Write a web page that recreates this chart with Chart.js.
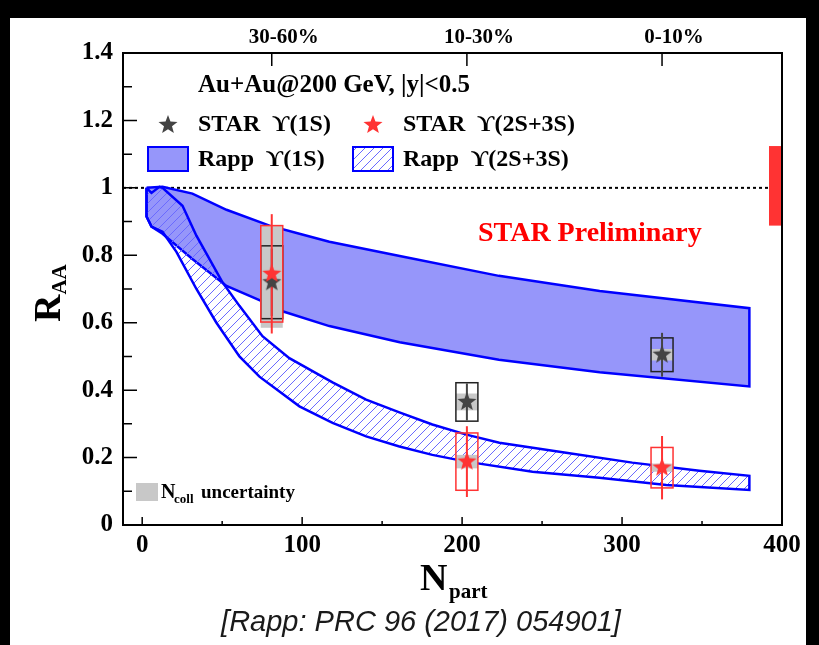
<!DOCTYPE html>
<html>
<head>
<meta charset="utf-8">
<script src="https://cdn.jsdelivr.net/npm/chart.js@4.4.0/dist/chart.umd.min.js"></script>
<style>
html, body { margin: 0; padding: 0; background: #000; }
</style>
</head>
<body>
<canvas id="raa-chart" width="819" height="645"></canvas>
<script>
// STAR points, one entry per centrality bin
const centralityLabels = ['30-60%', '10-30%', '0-10%'];
const nPart = [81, 203, 325];
const star1S = [0.72, 0.365, 0.505];
const star1SStat = [0.10, 0.055, 0.065];
const star1SSys = [0.108, 0.057, 0.05];
const star1SNcoll = [0.135, 0.025, 0.017];
const star23S = [0.745, 0.188, 0.17];
const star23SStat = [0.177, 0.105, 0.094];
const star23SSys = [0.143, 0.085, 0.06];
const star23SNcoll = [0.145, 0.02, 0.012];
const globalUnc = [0.888, 1.124];

// axis ticks
const xMajorTicks = [0, 100, 200, 300, 400];
const xMinorTicks = [50, 150, 250, 350];
const xTickLabels = ['0', '100', '200', '300', '400'];
const yMajorTicks = [0, 0.2, 0.4, 0.6, 0.8, 1, 1.2, 1.4];
const yMinorTicks = [0.1, 0.3, 0.5, 0.7, 0.9, 1.1, 1.3];
const yTickLabels = ['0', '0.2', '0.4', '0.6', '0.8', '1', '1.2', '1.4'];

// Rapp band edges (Npart, RAA)
const rapp1sUpperN = [2.7, 12.7, 31.4, 52.7, 79.6, 98.3, 117, 161, 223, 286, 379.6];
const rapp1sUpper = [1.0, 1.003, 0.983, 0.935, 0.888, 0.864, 0.84, 0.798, 0.739, 0.694, 0.643];
const rapp1sLowerN = [2.7, 5.8, 12.7, 31.4, 52.7, 73.3, 87.7, 117, 161, 223, 286, 379.6];
const rapp1sLower = [0.915, 0.885, 0.864, 0.789, 0.709, 0.667, 0.634, 0.59, 0.542, 0.49, 0.453, 0.411];
const rapp23sUpperN = [2.7, 5.8, 10.8, 12.7, 25.2, 33.9, 50.2, 60.8, 75.2, 92, 119, 140, 160.8, 181.4, 202.7, 223.3, 265, 306.4, 348.3, 379.6];
const rapp23sUpper = [1.0, 0.985, 1.003, 1.0, 0.947, 0.858, 0.72, 0.65, 0.56, 0.495, 0.423, 0.372, 0.334, 0.298, 0.268, 0.244, 0.214, 0.185, 0.161, 0.146];
const rapp23sLowerN = [2.7, 5.8, 12.7, 21.4, 33.9, 46.4, 60.8, 73.3, 98.3, 119, 140, 160.8, 181.4, 202.7, 244, 285.8, 327.7, 379.6];
const rapp23sLower = [0.915, 0.885, 0.87, 0.81, 0.70, 0.60, 0.50, 0.44, 0.352, 0.303, 0.263, 0.233, 0.208, 0.188, 0.158, 0.14, 0.119, 0.104];

const canvas = document.getElementById('raa-chart');
const ctx0 = canvas.getContext('2d');

const SERIF = '"Liberation Serif", "DejaVu Serif", serif';
const BLUE = '#0000ff';
const BAND_FILL = '#9696fa';
const RED = '#ff3333';
const DARK = '#444444';

// band outline as one closed shape: upper edge, then lower edge backwards
function bandShape(upN, up, loN, lo) {
	const pts = upN.map((n, i) => ({ x: n, y: up[i] }));
	for (let i = loN.length - 1; i >= 0; i--) pts.push({ x: loN[i], y: lo[i] });
	pts.push({ x: upN[0], y: up[0] });
	return pts;
}

function makeStar(color, size) {
	const c = document.createElement('canvas');
	c.width = size; c.height = size;
	const g = c.getContext('2d');
	const R = size / 2, r = R * 0.42;
	g.beginPath();
	for (let i = 0; i < 10; i++) {
		const a = -Math.PI / 2 + i * Math.PI / 5;
		const rad = i % 2 ? r : R;
		g.lineTo(R + rad * Math.cos(a), R + rad * Math.sin(a));
	}
	g.closePath();
	g.fillStyle = color;
	g.fill();
	return c;
}

function makeHatch() {
	const t = document.createElement('canvas');
	t.width = 9; t.height = 9;
	const g = t.getContext('2d');
	g.strokeStyle = '#6a6aff';
	g.lineWidth = 1;
	g.beginPath();
	g.moveTo(-1, 10); g.lineTo(10, -1);
	g.moveTo(-1, 1); g.lineTo(1, -1);
	g.moveTo(8, 10); g.lineTo(10, 8);
	g.stroke();
	return ctx0.createPattern(t, 'repeat');
}

const starBlack = makeStar(DARK, 20);
const starRed = makeStar(RED, 20);
const hatch = makeHatch();

const decor = {
	id: 'decor',
	beforeDraw(chart) {
		const c = chart.ctx;
		c.save();
		c.fillStyle = '#000';
		c.fillRect(0, 0, chart.width, chart.height);
		c.fillStyle = '#fff';
		c.fillRect(10, 18, 796, 627);
		c.restore();
	},
	beforeDatasetsDraw(chart) {
		const c = chart.ctx;
		const { left, right } = chart.chartArea;
		const y1 = chart.scales.y.getPixelForValue(1);
		c.save();
		c.strokeStyle = '#000';
		c.lineWidth = 2;
		c.setLineDash([3, 3]);
		c.beginPath();
		c.moveTo(left, y1); c.lineTo(right, y1);
		c.stroke();
		c.restore();
	},
	afterDatasetDraw(chart, args) {
		if (args.index !== 2) return;
		const c = chart.ctx;
		const sx = chart.scales.x, sy = chart.scales.y;
		const hw = 11;
		c.save();
		// Ncoll uncertainty (grey)
		c.fillStyle = '#c8c8c8';
		nPart.forEach((n, i) => {
			const px = sx.getPixelForValue(n);
			[[star1S, star1SNcoll], [star23S, star23SNcoll]].forEach(([v, e]) => {
				const t = sy.getPixelForValue(v[i] + e[i]);
				const b = sy.getPixelForValue(v[i] - e[i]);
				c.fillRect(px - hw, t, 2 * hw, b - t);
			});
		});
		// systematic boxes
		c.lineWidth = 1.5;
		nPart.forEach((n, i) => {
			const px = sx.getPixelForValue(n);
			[[star1S, star1SSys, '#222'], [star23S, star23SSys, RED]].forEach(([v, e, col]) => {
				const t = sy.getPixelForValue(v[i] + e[i]);
				const b = sy.getPixelForValue(v[i] - e[i]);
				c.strokeStyle = col;
				c.strokeRect(px - hw, t, 2 * hw, b - t);
			});
		});
		// statistical bars
		c.lineWidth = 2;
		nPart.forEach((n, i) => {
			const px = sx.getPixelForValue(n);
			[[star1S, star1SStat, DARK], [star23S, star23SStat, RED]].forEach(([v, e, col]) => {
				c.strokeStyle = col;
				c.beginPath();
				c.moveTo(px, sy.getPixelForValue(v[i] + e[i]));
				c.lineTo(px, sy.getPixelForValue(v[i] - e[i]));
				c.stroke();
			});
		});
		c.restore();
	},
	afterDraw(chart) {
		const c = chart.ctx;
		const { left, right, top, bottom } = chart.chartArea;
		const sx = chart.scales.x, sy = chart.scales.y;
		c.save();

		// global uncertainty box at RAA = 1
		const gt = sy.getPixelForValue(globalUnc[1]);
		const gb = sy.getPixelForValue(globalUnc[0]);
		c.fillStyle = RED;
		c.fillRect(right - 13, gt, 13, gb - gt);

		// frame and inward ticks
		c.strokeStyle = '#000';
		c.lineWidth = 2;
		c.strokeRect(left, top, right - left, bottom - top);
		c.lineWidth = 1.5;
		c.beginPath();
		xMajorTicks.forEach(v => { const p = sx.getPixelForValue(v); c.moveTo(p, bottom); c.lineTo(p, bottom - 8); });
		xMinorTicks.forEach(v => { const p = sx.getPixelForValue(v); c.moveTo(p, bottom); c.lineTo(p, bottom - 4); });
		yMajorTicks.forEach(v => { const p = sy.getPixelForValue(v); c.moveTo(left, p); c.lineTo(left + 14, p); });
		yMinorTicks.forEach(v => { const p = sy.getPixelForValue(v); c.moveTo(left, p); c.lineTo(left + 9, p); });
		nPart.forEach(v => { const p = sx.getPixelForValue(v); c.moveTo(p, top); c.lineTo(p, top + 13); });
		c.stroke();

		// header and legend
		c.fillStyle = '#000';
		c.textBaseline = 'middle';
		c.textAlign = 'left';
		c.font = 'bold 25px ' + SERIF;
		c.fillText('Au+Au@200 GeV, |y|<0.5', 198, 86);
		c.font = 'bold 24px ' + SERIF;
		c.fillText('STAR  \u03D2(1S)', 198, 125);
		c.fillText('STAR  \u03D2(2S+3S)', 403, 125);
		c.fillText('Rapp  \u03D2(1S)', 198, 160);
		c.fillText('Rapp  \u03D2(2S+3S)', 403, 160);
		c.drawImage(starBlack, 168 - 10, 125 - 10);
		c.drawImage(starRed, 373 - 10, 125 - 10);
		c.fillStyle = BAND_FILL;
		c.fillRect(148, 147, 40, 24);
		c.fillStyle = hatch;
		c.fillRect(353, 147, 40, 24);
		c.strokeStyle = BLUE;
		c.lineWidth = 2;
		c.strokeRect(148, 147, 40, 24);
		c.strokeRect(353, 147, 40, 24);

		c.fillStyle = '#ff0000';
		c.font = 'bold 28px ' + SERIF;
		c.fillText('STAR Preliminary', 478, 234);

		// Ncoll legend
		c.fillStyle = '#c8c8c8';
		c.fillRect(136, 483, 22, 18);
		c.fillStyle = '#000';
		c.textBaseline = 'alphabetic';
		c.font = 'bold 20px ' + SERIF;
		c.fillText('N', 161, 498);
		c.font = 'bold 13px ' + SERIF;
		c.fillText('coll', 174, 503);
		c.font = 'bold 19px ' + SERIF;
		c.fillText('uncertainty', 201, 498);

		// axis titles
		c.font = 'bold 38px ' + SERIF;
		c.fillText('N', 420, 590);
		c.font = 'bold 21px ' + SERIF;
		c.fillText('part', 449, 598);

		c.save();
		c.translate(60, 322);
		c.rotate(-Math.PI / 2);
		c.font = 'bold 38px ' + SERIF;
		c.fillText('R', 0, 0);
		const rw = c.measureText('R').width;
		c.font = 'bold 21px ' + SERIF;
		c.fillText('AA', rw, 6);
		c.restore();

		// reference caption
		c.fillStyle = '#1a1a1a';
		c.textAlign = 'center';
		c.font = 'italic 29px "Liberation Sans", Arial, sans-serif';
		c.fillText('[Rapp: PRC 96 (2017) 054901]', 421, 631);
		c.restore();
	}
};

const chartData = {
	datasets: [
		{
			label: 'STAR Y(2S+3S)',
			data: nPart.map((n, i) => ({ x: n, y: star23S[i] })),
			showLine: false,
			pointStyle: starRed,
			pointRadius: 10
		},
		{
			label: 'STAR Y(1S)',
			data: nPart.map((n, i) => ({ x: n, y: star1S[i] })),
			showLine: false,
			pointStyle: starBlack,
			pointRadius: 10
		},
		{
			label: 'Rapp Y(2S+3S)',
			data: bandShape(rapp23sUpperN, rapp23sUpper, rapp23sLowerN, rapp23sLower),
			borderColor: BLUE,
			borderWidth: 2.5,
			backgroundColor: hatch,
			fill: 'shape',
			pointRadius: 0,
			tension: 0
		},
		{
			label: 'Rapp Y(1S)',
			data: bandShape(rapp1sUpperN, rapp1sUpper, rapp1sLowerN, rapp1sLower),
			borderColor: BLUE,
			borderWidth: 2.5,
			backgroundColor: BAND_FILL,
			fill: 'shape',
			pointRadius: 0,
			tension: 0
		}
	]
};

const tickFont = { family: SERIF, size: 25, weight: 'bold' };

const chartOptions = {
	responsive: false,
	animation: false,
	events: [],
	layout: { padding: { left: 0, top: 0, right: 37, bottom: 0 } },
	scales: {
		x: {
			type: 'linear',
			position: 'bottom',
			min: -12,
			max: 400,
			afterBuildTicks: s => { s.ticks = xMajorTicks.map(v => ({ value: v })); },
			afterFit: s => { s.height = 120; },
			ticks: {
				autoSkip: false,
				maxRotation: 0,
				padding: 6,
				color: '#000',
				font: tickFont,
				callback: (v, i) => xTickLabels[i]
			},
			grid: { display: false, drawTicks: false },
			border: { display: false }
		},
		xTop: {
			type: 'linear',
			position: 'top',
			min: -12,
			max: 400,
			afterBuildTicks: s => { s.ticks = nPart.map(v => ({ value: v })); },
			afterFit: s => { s.height = 53; },
			ticks: {
				autoSkip: false,
				maxRotation: 0,
				padding: 3,
				labelOffset: 12,
				color: '#000',
				font: { family: SERIF, size: 21, weight: 'bold' },
				callback: (v, i) => centralityLabels[i]
			},
			grid: { display: false, drawTicks: false },
			border: { display: false }
		},
		y: {
			min: 0,
			max: 1.4,
			afterBuildTicks: s => { s.ticks = yMajorTicks.map(v => ({ value: v })); },
			afterFit: s => { s.width = 123; },
			ticks: {
				autoSkip: false,
				padding: 10,
				color: '#000',
				font: tickFont,
				callback: (v, i) => yTickLabels[i]
			},
			grid: { display: false, drawTicks: false },
			border: { display: false }
		}
	},
	plugins: {
		legend: { display: false },
		tooltip: { enabled: false }
	}
};

const raaChart = new Chart(canvas, {
	type: 'line',
	data: chartData,
	options: chartOptions,
	plugins: [decor]
});
</script>
</body>
</html>
